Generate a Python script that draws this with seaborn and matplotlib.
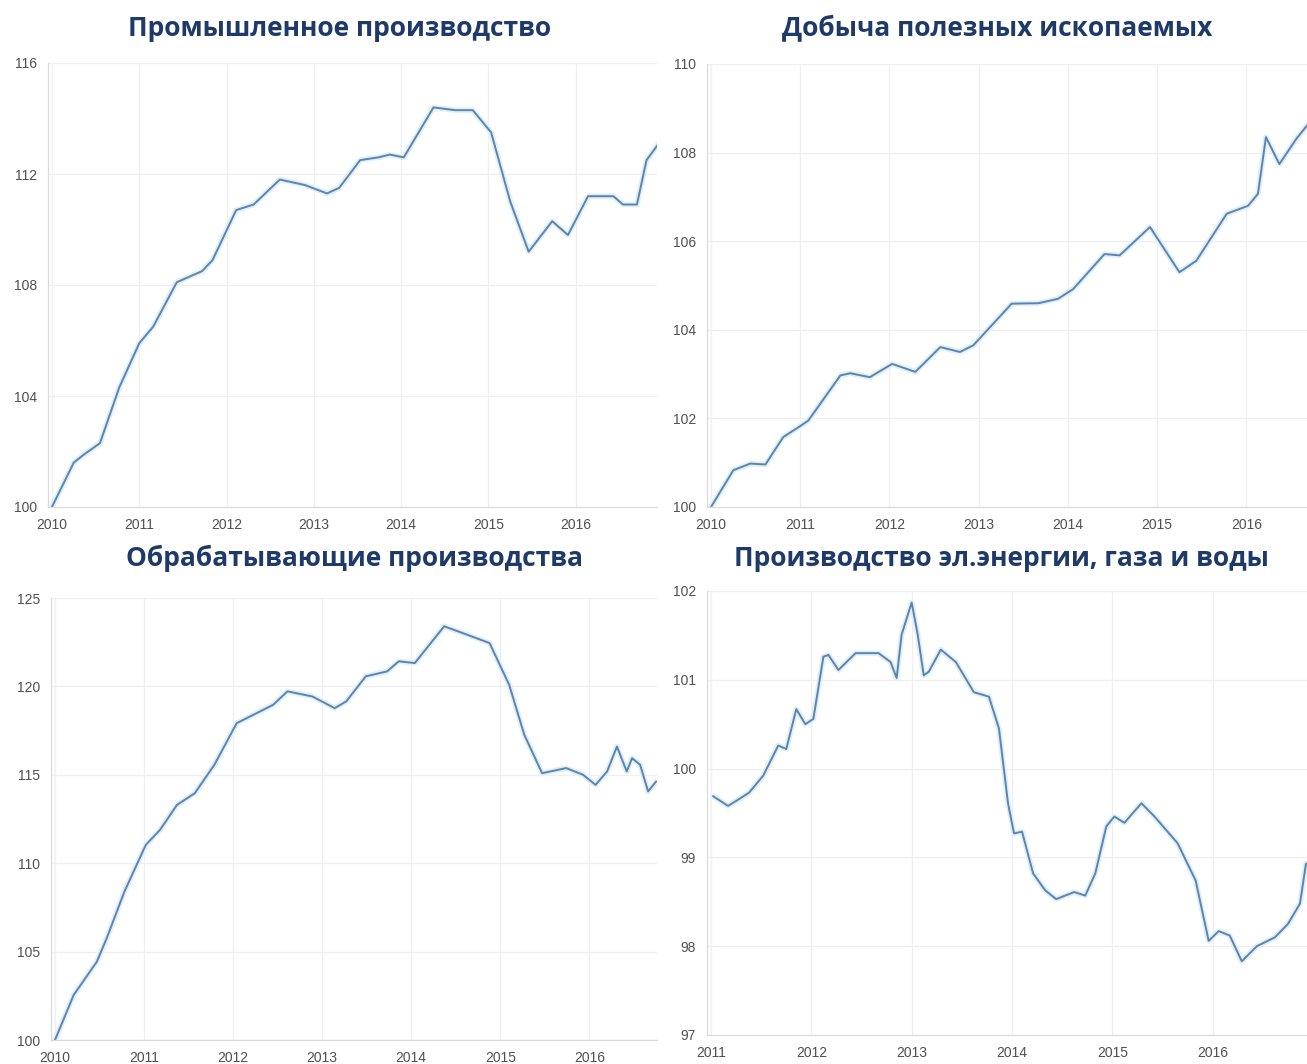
import matplotlib
matplotlib.use("Agg")
import matplotlib.pyplot as plt
import seaborn as sns
import pandas as pd

# ---------------- data ----------------
titles = ["Промышленное производство", "Добыча полезных ископаемых",
          "Обрабатывающие производства", "Производство эл.энергии, газа и воды"]

ind_t = [2010.0, 2010.25, 2010.37, 2010.55, 2010.77, 2011.0, 2011.16, 2011.43, 2011.72, 2011.84,
         2012.11, 2012.31, 2012.61, 2012.90, 2013.15, 2013.29, 2013.53, 2013.74, 2013.87, 2014.03,
         2014.37, 2014.62, 2014.82, 2015.03, 2015.25, 2015.46, 2015.73, 2015.91, 2016.14, 2016.43,
         2016.54, 2016.70, 2016.81, 2016.95]
ind_v = [100.0, 101.6, 101.9, 102.3, 104.3, 105.9, 106.5, 108.1, 108.5, 108.9,
         110.7, 110.9, 111.8, 111.6, 111.3, 111.5, 112.5, 112.6, 112.7, 112.6,
         114.4, 114.3, 114.3, 113.5, 111.0, 109.2, 110.3, 109.8, 111.2, 111.2,
         110.9, 110.9, 112.5, 113.1]

min_t = [2010.0, 2010.25, 2010.44, 2010.61, 2010.81, 2010.98, 2011.09, 2011.45, 2011.56, 2011.78,
         2012.03, 2012.29, 2012.57, 2012.79, 2012.94, 2013.37, 2013.67, 2013.89, 2014.06, 2014.41,
         2014.58, 2014.92, 2015.25, 2015.44, 2015.78, 2016.02, 2016.13, 2016.22, 2016.37, 2016.56,
         2016.68]
min_v = [100.0, 100.83, 100.98, 100.96, 101.58, 101.80, 101.95, 102.97, 103.02, 102.93,
         103.23, 103.05, 103.61, 103.50, 103.65, 104.59, 104.60, 104.70, 104.92, 105.71,
         105.68, 106.32, 105.30, 105.56, 106.62, 106.80, 107.07, 108.35, 107.74, 108.31,
         108.61]

man_t = [2010.0, 2010.21, 2010.47, 2010.58, 2010.78, 2011.02, 2011.18, 2011.37, 2011.57, 2011.79,
         2012.04, 2012.23, 2012.45, 2012.61, 2012.89, 2013.14, 2013.27, 2013.49, 2013.73, 2013.86,
         2014.04, 2014.37, 2014.63, 2014.88, 2015.10, 2015.27, 2015.47, 2015.74, 2015.93, 2016.07,
         2016.20, 2016.31, 2016.42, 2016.48, 2016.57, 2016.66, 2016.75]
man_v = [100.0, 102.55, 104.43, 105.75, 108.40, 111.04, 111.89, 113.30, 113.96, 115.57,
         117.92, 118.40, 118.96, 119.72, 119.43, 118.77, 119.15, 120.57, 120.85, 121.42,
         121.32, 123.40, 122.92, 122.45, 120.09, 117.26, 115.09, 115.38, 115.00, 114.43,
         115.19, 116.60, 115.19, 115.94, 115.57, 114.06, 114.62]

ele_t = [2011.02, 2011.17, 2011.27, 2011.38, 2011.52, 2011.67, 2011.75, 2011.85, 2011.94, 2012.02,
         2012.12, 2012.17, 2012.27, 2012.44, 2012.67, 2012.79, 2012.85, 2012.90, 2013.0, 2013.06,
         2013.12, 2013.17, 2013.29, 2013.44, 2013.62, 2013.77, 2013.87, 2013.96, 2014.02, 2014.10,
         2014.21, 2014.33, 2014.44, 2014.62, 2014.73, 2014.83, 2014.94, 2015.02, 2015.12, 2015.29,
         2015.42, 2015.65, 2015.83, 2015.96, 2016.06, 2016.17, 2016.29, 2016.44, 2016.62, 2016.75,
         2016.87, 2016.93]
ele_v = [99.69, 99.58, 99.65, 99.73, 99.92, 100.26, 100.22, 100.67, 100.50, 100.56,
         101.26, 101.28, 101.11, 101.30, 101.30, 101.20, 101.02, 101.51, 101.87, 101.51,
         101.05, 101.09, 101.34, 101.20, 100.86, 100.81, 100.45, 99.61, 99.27, 99.29,
         98.82, 98.63, 98.53, 98.61, 98.57, 98.82, 99.35, 99.46, 99.39, 99.61,
         99.46, 99.16, 98.74, 98.06, 98.17, 98.12, 97.83, 98.00, 98.10, 98.25,
         98.48, 98.93]

ind_yticks = [100, 104, 108, 112, 116]
min_yticks = [100, 102, 104, 106, 108, 110]
man_yticks = [100, 105, 110, 115, 120, 125]
ele_yticks = [97, 98, 99, 100, 101, 102]
years_a = [2010, 2011, 2012, 2013, 2014, 2015, 2016]
years_b = [2011, 2012, 2013, 2014, 2015, 2016]

# ---------------- style ----------------
sns.set_theme(style="whitegrid")
plt.rcParams['font.family'] = ['Liberation Sans', 'DejaVu Sans']

W, H = 1307, 1064
fig = plt.figure(figsize=(W / 100, H / 100), dpi=100)

LINE = "#5d84aa"
HALO = "#dff0fb"
TITLE_C = "#1f3a68"

panels = [
    (titles[0], ind_t, ind_v, ind_yticks, years_a, (100, 116), (2009.955, 2016.93), (48, 63, 657, 507), (340, 28)),
    (titles[1], min_t, min_v, min_yticks, years_a, (100, 110), (2009.955, 2016.68), (707, 64, 1307, 507), (997, 28)),
    (titles[2], man_t, man_v, man_yticks, years_a, (100, 125), (2009.955, 2016.76), (51, 598, 657, 1040), (354, 558)),
    (titles[3], ele_t, ele_v, ele_yticks, years_b, (97, 102), (2010.96, 2016.94), (707, 591, 1307, 1035), (1001, 558)),
]

for title, t, v, yt, xt, yl, xl, box, tpos in panels:
    l, tp, r, b = box
    ax = fig.add_axes([l / W, 1 - b / H, (r - l) / W, (b - tp) / H])
    df = pd.DataFrame({"t": t, "v": v})
    sns.lineplot(data=df, x="t", y="v", ax=ax, color=HALO, linewidth=4.0, sort=False)
    sns.lineplot(data=df, x="t", y="v", ax=ax, color=LINE, linewidth=1.4, sort=False)
    ax.set_xlim(*xl)
    ax.set_ylim(*yl)
    ax.set_xticks(xt)
    ax.set_xticklabels([str(x) for x in xt])
    ax.set_yticks(yt)
    ax.set_yticklabels([str(y) for y in yt])
    ax.set_xlabel("")
    ax.set_ylabel("")
    ax.grid(True, color="#efefef", linewidth=0.9)
    ax.set_facecolor("white")
    for s in ["top", "right"]:
        ax.spines[s].set_visible(False)
    for s in ["left", "bottom"]:
        ax.spines[s].set_visible(True)
        ax.spines[s].set_color("#dadada")
        ax.spines[s].set_linewidth(0.9)
    ax.tick_params(axis="both", labelsize=10, colors="#505050", length=3, width=0.6,
                   color="#cccccc")
    ax.tick_params(axis="x", pad=5)
    ax.tick_params(axis="y", pad=5)
    fig.text(tpos[0] / W, 1 - tpos[1] / H, title, ha="center", va="center",
             fontsize=19, fontweight="bold", color=TITLE_C,
             family=["Open Sans", "DejaVu Sans"])

fig.savefig("out.png", dpi=100, facecolor="white")
